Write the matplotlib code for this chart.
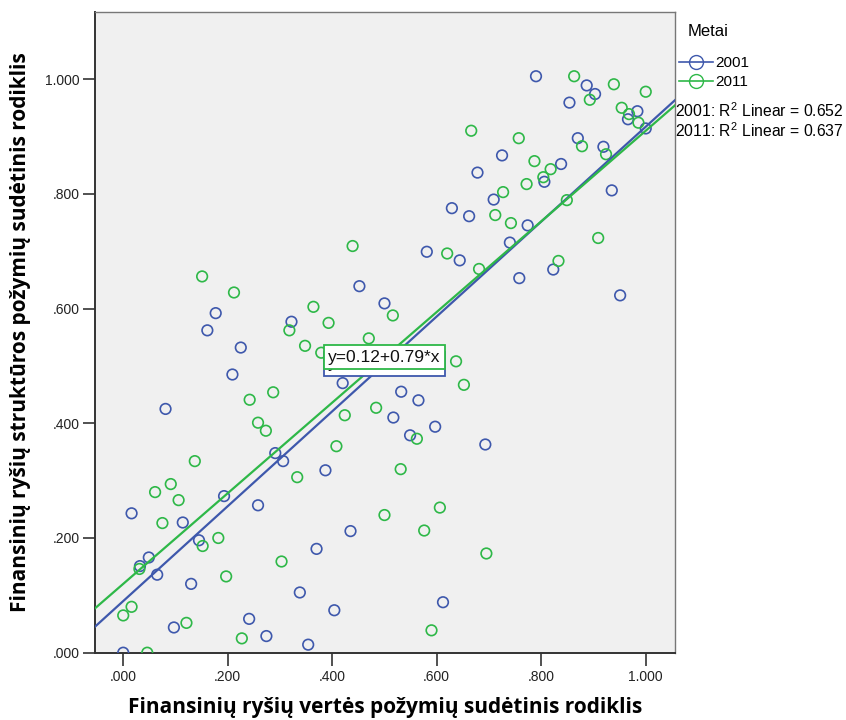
import numpy as np
import matplotlib
matplotlib.use("Agg")
import matplotlib.pyplot as plt
from matplotlib.lines import Line2D
from matplotlib.ticker import FuncFormatter

# 2001 (blue) points
x_2001 = [0.000, 0.016, 0.032, 0.049, 0.065, 0.081, 0.097, 0.114, 0.130, 0.145,
          0.161, 0.177, 0.193, 0.209, 0.225, 0.241, 0.258, 0.274, 0.291, 0.306,
          0.322, 0.338, 0.354, 0.370, 0.387, 0.404, 0.420, 0.435, 0.452, 0.500,
          0.517, 0.532, 0.549, 0.565, 0.581, 0.597, 0.612, 0.629, 0.644, 0.662,
          0.678, 0.693, 0.709, 0.725, 0.740, 0.758, 0.774, 0.790, 0.806, 0.823,
          0.838, 0.854, 0.870, 0.887, 0.903, 0.919, 0.935, 0.951, 0.966, 0.984,
          1.000]
y_2001 = [0.000, 0.243, 0.151, 0.166, 0.136, 0.425, 0.044, 0.227, 0.120, 0.196,
          0.562, 0.592, 0.273, 0.485, 0.532, 0.059, 0.257, 0.029, 0.348, 0.334,
          0.577, 0.105, 0.014, 0.181, 0.318, 0.074, 0.470, 0.212, 0.639, 0.609,
          0.410, 0.455, 0.379, 0.440, 0.699, 0.394, 0.088, 0.775, 0.684, 0.761,
          0.837, 0.363, 0.790, 0.867, 0.715, 0.653, 0.745, 1.005, 0.821, 0.668,
          0.852, 0.959, 0.897, 0.989, 0.974, 0.882, 0.806, 0.623, 0.930, 0.944,
          0.914]

# 2011 (green) points
x_2011 = [0.000, 0.016, 0.031, 0.046, 0.061, 0.075, 0.091, 0.106, 0.121, 0.137,
          0.151, 0.152, 0.182, 0.197, 0.212, 0.227, 0.242, 0.258, 0.273, 0.287,
          0.303, 0.318, 0.333, 0.348, 0.364, 0.379, 0.393, 0.408, 0.424, 0.439,
          0.470, 0.484, 0.500, 0.516, 0.531, 0.562, 0.576, 0.590, 0.606, 0.620,
          0.637, 0.652, 0.666, 0.681, 0.695, 0.712, 0.727, 0.742, 0.757, 0.772,
          0.787, 0.804, 0.818, 0.833, 0.849, 0.863, 0.878, 0.893, 0.909, 0.924,
          0.939, 0.954, 0.968, 0.986, 1.000]
y_2011 = [0.065, 0.080, 0.146, 0.000, 0.280, 0.226, 0.294, 0.266, 0.052, 0.334,
          0.656, 0.186, 0.200, 0.133, 0.628, 0.025, 0.441, 0.401, 0.387, 0.454,
          0.159, 0.562, 0.306, 0.535, 0.603, 0.523, 0.575, 0.360, 0.414, 0.709,
          0.548, 0.427, 0.240, 0.588, 0.320, 0.373, 0.213, 0.039, 0.253, 0.696,
          0.508, 0.467, 0.910, 0.669, 0.173, 0.763, 0.803, 0.749, 0.897, 0.817,
          0.857, 0.829, 0.843, 0.683, 0.789, 1.005, 0.883, 0.964, 0.723, 0.869,
          0.991, 0.950, 0.939, 0.924, 0.978]

# fit lines (intercept, slope) and R2 as shown
fit_2001 = (0.09, 0.827)
fit_2011 = (0.12, 0.79)
r2_2001 = 0.652
r2_2011 = 0.637

blue = "#3E58AC"
green = "#2EB848"

plt.rcParams["font.family"] = ["Liberation Sans", "DejaVu Sans"]
plt.rcParams["mathtext.fontset"] = "custom"
plt.rcParams["mathtext.rm"] = "Liberation Sans"

fig = plt.figure(figsize=(8.46, 7.2), dpi=100)
ax = fig.add_axes([95 / 846, 1 - 652.7 / 720, 580 / 846, 640.7 / 720])
ax.set_facecolor("#F0F0F0")
ax.set_xlim(-0.054, 1.056)
ax.set_ylim(0, 1.117)

ax.scatter(x_2001, y_2001, s=58, facecolors="none", edgecolors=blue,
           linewidths=1.2, zorder=3)
ax.scatter(x_2011, y_2011, s=58, facecolors="none", edgecolors=green,
           linewidths=1.2, zorder=3)

xs = np.array(ax.get_xlim())
for (b0, b1), col in [(fit_2001, blue), (fit_2011, green)]:
    ax.plot(xs, b0 + b1 * xs, color=col, lw=1.6, zorder=4)

# equation labels at the middle of each line (green one on top)
for (b0, b1), col, z in [(fit_2001, blue, 5), (fit_2011, green, 6)]:
    ax.text(0.5, b0 + b1 * 0.5, f"y={b0:.2f}+{b1:.2f}*x", fontsize=12.5,
            ha="center", va="center", color="#111111", zorder=z,
            bbox=dict(boxstyle="square,pad=0.25", fc="white", ec=col, lw=1.3))

fmt = FuncFormatter(lambda v, p: f"{v:.3f}".lstrip("0") if v < 1 else f"{v:.3f}")
ax.set_xticks([0, 0.2, 0.4, 0.6, 0.8, 1.0])
ax.set_yticks([0, 0.2, 0.4, 0.6, 0.8, 1.0])
ax.xaxis.set_major_formatter(fmt)
ax.yaxis.set_major_formatter(fmt)
ax.tick_params(direction="out", length=9, width=1.2, labelsize=10,
               colors="#333333", labelcolor="#222222")
ax.tick_params(axis="y", pad=2)

for side in ["left", "bottom"]:
    ax.spines[side].set_color("#333333")
    ax.spines[side].set_linewidth(1.4)
for side in ["top", "right"]:
    ax.spines[side].set_color("#777777")
    ax.spines[side].set_linewidth(1.0)

ax.set_xlabel("Finansinių ryšių vertės požymių sudėtinis rodiklis",
              fontsize=15, fontweight="bold", family="Open Sans", va="center")
ax.set_ylabel("Finansinių ryšių struktūros požymių sudėtinis rodiklis",
              fontsize=15, fontweight="bold", family="Open Sans", va="center")
ax.xaxis.set_label_coords(0.5, (652.7 - 707) / 640.7)
ax.yaxis.set_label_coords((21 - 95) / 580, 0.5)

fig.text(688 / 846, 1 - 32 / 720, "Metai", fontsize=12, va="center", ha="left")

handles = [
    Line2D([0], [0], color=blue, lw=1.2, marker="o", ms=10, mfc="none", mec=blue),
    Line2D([0], [0], color=green, lw=1.2, marker="o", ms=10, mfc="none", mec=green),
]
leg = fig.legend(handles, ["2001", "2011"], loc="upper left",
                 bbox_to_anchor=(679 / 846, 1 - 56 / 720), frameon=False,
                 fontsize=11, handlelength=2.2, handletextpad=0.2,
                 labelspacing=0.35, borderpad=0, borderaxespad=0)

fig.text(675 / 846, 1 - 111 / 720, f"2001: R$^2$ Linear = {r2_2001:.3f}",
         fontsize=11.3, va="center", ha="left")
fig.text(675 / 846, 1 - 131 / 720, f"2011: R$^2$ Linear = {r2_2011:.3f}",
         fontsize=11.3, va="center", ha="left")

fig.savefig("out.png", dpi=100)
